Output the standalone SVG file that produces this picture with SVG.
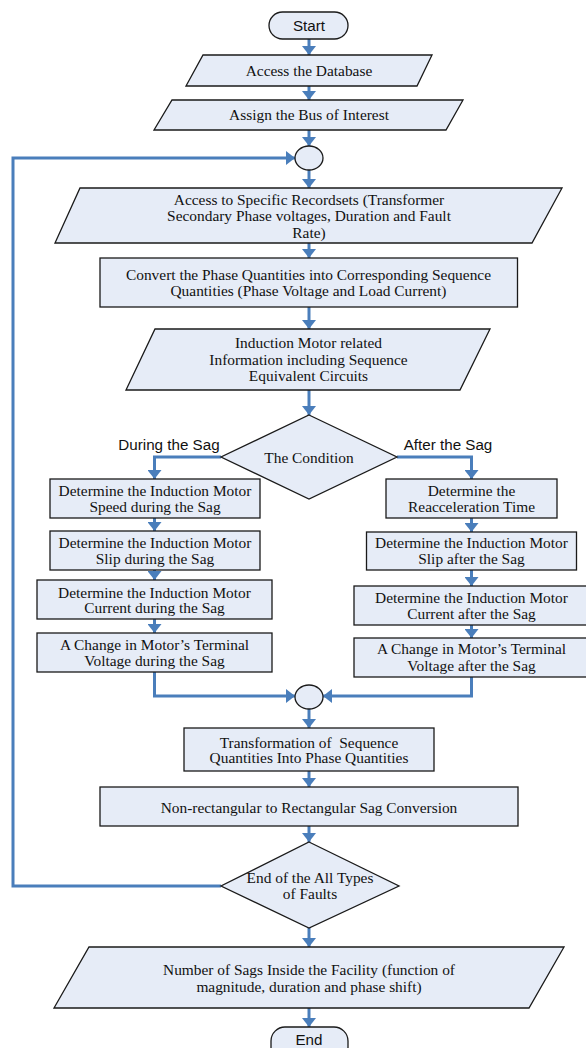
<svg xmlns="http://www.w3.org/2000/svg" width="586" height="1048" viewBox="0 0 586 1048">
  <style>
    .shape { fill: #E6ECF7; stroke: #1a1a1a; stroke-width: 1.3; }
    .flow { fill: none; stroke: #4A7EBB; stroke-width: 3; marker-end: url(#arrow); }
    .serif { font-family: "Liberation Serif", "Times New Roman", serif; font-size: 15.4px; fill: #111; text-anchor: middle; white-space: pre; }
    .sans { font-family: "Liberation Sans", Arial, sans-serif; font-size: 15.2px; fill: #111; text-anchor: middle; }
  </style>
  <defs>
    <marker id="arrow" markerUnits="userSpaceOnUse" viewBox="0 0 9 14" refX="9" refY="7" markerWidth="9" markerHeight="14" orient="auto">
      <path d="M0,0 L9,7 L0,14 z" fill="#4A7EBB"/>
    </marker>
  </defs>
  <rect width="586" height="1048" fill="#ffffff"/>

  <!-- connectors -->
  <g id="connectors">
    <path class="flow" d="M309,39 V55"/>
    <path class="flow" d="M309,86 V100"/>
    <path class="flow" d="M309,130 V146"/>
    <path class="flow" d="M309,170 V188"/>
    <path class="flow" d="M309,243 V258"/>
    <path class="flow" d="M309,307 V329"/>
    <path class="flow" d="M309,390 V415"/>
    <path class="flow" d="M221,457 H154.5 V479"/>
    <path class="flow" d="M397,457 H471.5 V479"/>
    <path class="flow" d="M154.5,518 V531"/>
    <path class="flow" d="M154.5,570 V580"/>
    <path class="flow" d="M154.5,619 V633"/>
    <path class="flow" d="M471.5,518 V532"/>
    <path class="flow" d="M471.5,570 V586"/>
    <path class="flow" d="M471.5,625 V638"/>
    <path class="flow" d="M154.5,672 V696 H295"/>
    <path class="flow" d="M471.5,677 V696 H323"/>
    <path class="flow" d="M309,709 V728"/>
    <path class="flow" d="M309,771 V787"/>
    <path class="flow" d="M309,826 V842"/>
    <path class="flow" d="M221,886 H13 V158 H295"/>
    <path class="flow" d="M309,928 V947"/>
    <path class="flow" d="M309,1008 V1027"/>
  </g>

  <g id="start">
    <rect class="shape" x="269" y="12" width="79" height="27" rx="13.5"/>
    <text class="sans" x="309" y="30.5">Start</text>
  </g>

  <g id="access-database">
    <polygon class="shape" points="203,55 432,55 417,86 186,86"/>
    <text class="serif" x="309" y="76">Access the Database</text>
  </g>

  <g id="assign-bus">
    <polygon class="shape" points="172,100 463,100 446,130 154,130"/>
    <text class="serif" x="309" y="119.5">Assign the Bus of Interest</text>
  </g>

  <g id="loop-junction">
    <ellipse class="shape" cx="309" cy="158" rx="14" ry="12"/>
  </g>

  <g id="recordsets">
    <polygon class="shape" points="80,188 562,188 532,243 55,243"/>
    <text class="serif" x="309" y="204.5">Access to Specific Recordsets (Transformer</text>
    <text class="serif" x="309" y="220.5">Secondary Phase voltages, Duration and Fault</text>
    <text class="serif" x="309" y="237.5">Rate)</text>
  </g>

  <g id="convert">
    <rect class="shape" x="100" y="258" width="417.5" height="49"/>
    <text class="serif" x="308.5" y="279.5">Convert the Phase Quantities into Corresponding Sequence</text>
    <text class="serif" x="308.5" y="295.5">Quantities (Phase Voltage and Load Current)</text>
  </g>

  <g id="motor-info">
    <polygon class="shape" points="155,329 490,329 460,390 126,390"/>
    <text class="serif" x="308.5" y="347.5">Induction Motor related</text>
    <text class="serif" x="308.5" y="364.5">Information including Sequence</text>
    <text class="serif" x="308.5" y="380.5">Equivalent Circuits</text>
  </g>

  <g id="condition">
    <polygon class="shape" points="309,415 397,457 309,499 221,457"/>
    <text class="serif" x="309" y="462.5">The Condition</text>
    <text class="sans" x="169" y="449.5">During the Sag</text>
    <text class="sans" x="448" y="449.5">After the Sag</text>
  </g>

  <g id="speed-during">
    <rect class="shape" x="50" y="479" width="210" height="39"/>
    <text class="serif" x="155" y="495.5">Determine the Induction Motor</text>
    <text class="serif" x="155" y="511.5">Speed during the Sag</text>
  </g>

  <g id="slip-during">
    <rect class="shape" x="50" y="531" width="210" height="39"/>
    <text class="serif" x="155" y="547.5">Determine the Induction Motor</text>
    <text class="serif" x="155" y="563.5">Slip during the Sag</text>
  </g>

  <g id="current-during">
    <rect class="shape" x="37" y="580" width="235" height="39"/>
    <text class="serif" x="154.5" y="597.5">Determine the Induction Motor</text>
    <text class="serif" x="154.5" y="612.5">Current during the Sag</text>
  </g>

  <g id="voltage-during">
    <rect class="shape" x="37" y="633" width="235" height="39"/>
    <text class="serif" x="154.5" y="649.5">A Change in Motor’s Terminal</text>
    <text class="serif" x="154.5" y="665.5">Voltage during the Sag</text>
  </g>

  <g id="reacceleration">
    <rect class="shape" x="386" y="479" width="171" height="39"/>
    <text class="serif" x="471.5" y="495.5">Determine the</text>
    <text class="serif" x="471.5" y="511.5">Reacceleration Time</text>
  </g>

  <g id="slip-after">
    <rect class="shape" x="366.5" y="532" width="210" height="38"/>
    <text class="serif" x="471.5" y="547.5">Determine the Induction Motor</text>
    <text class="serif" x="471.5" y="563.5">Slip after the Sag</text>
  </g>

  <g id="current-after">
    <rect class="shape" x="354" y="586" width="235" height="39"/>
    <text class="serif" x="471.5" y="602.5">Determine the Induction Motor</text>
    <text class="serif" x="471.5" y="618.5">Current after the Sag</text>
  </g>

  <g id="voltage-after">
    <rect class="shape" x="354" y="638" width="235" height="39"/>
    <text class="serif" x="471.5" y="653.5">A Change in Motor’s Terminal</text>
    <text class="serif" x="471.5" y="670.5">Voltage after the Sag</text>
  </g>

  <g id="merge-junction">
    <ellipse class="shape" cx="309" cy="697" rx="14" ry="12"/>
  </g>

  <g id="transformation">
    <rect class="shape" x="184" y="728" width="250" height="43"/>
    <text class="serif" x="309" y="747.5">Transformation of  Sequence</text>
    <text class="serif" x="309" y="762.5">Quantities Into Phase Quantities</text>
  </g>

  <g id="sag-conversion">
    <rect class="shape" x="100" y="787" width="418" height="39"/>
    <text class="serif" x="309" y="812.5">Non-rectangular to Rectangular Sag Conversion</text>
  </g>

  <g id="end-of-faults">
    <polygon class="shape" points="309,842 399,886 309,928 221,886"/>
    <text class="serif" x="310" y="882.5">End of the All Types</text>
    <text class="serif" x="310" y="898.5">of Faults</text>
  </g>

  <g id="sag-count">
    <polygon class="shape" points="89,947 564,947 529,1008 54,1008"/>
    <text class="serif" x="309" y="974.5">Number of Sags Inside the Facility (function of</text>
    <text class="serif" x="309" y="991.5">magnitude, duration and phase shift)</text>
  </g>

  <g id="end">
    <rect class="shape" x="271" y="1027" width="77" height="34" rx="14"/>
    <text class="sans" x="309" y="1044.5">End</text>
  </g>
</svg>
